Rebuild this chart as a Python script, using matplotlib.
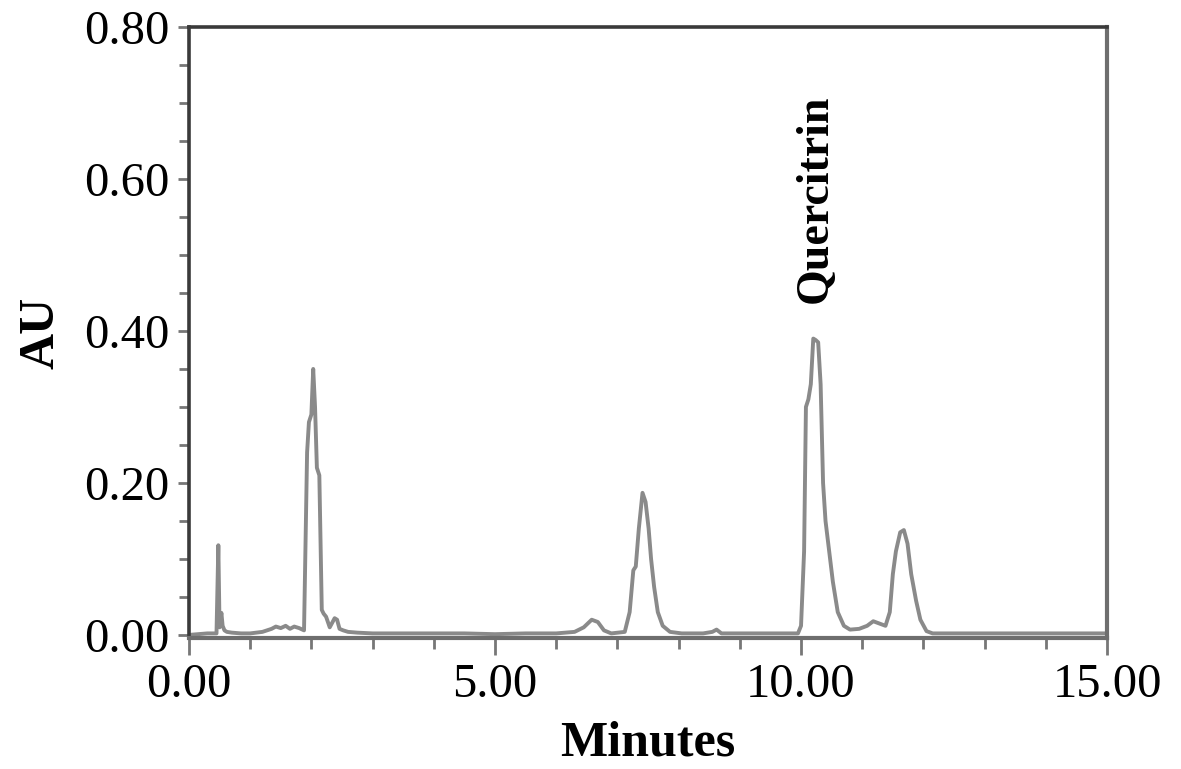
import matplotlib
matplotlib.use('Agg')
import matplotlib.pyplot as plt
from matplotlib.ticker import MultipleLocator, FormatStrFormatter

plt.rcParams['font.family'] = ['Liberation Serif', 'DejaVu Serif']

# retention time (min) and absorbance (AU)
time = [0.00, 0.30, 0.45, 0.48, 0.50, 0.53, 0.55, 0.58, 0.62, 0.70, 0.85, 1.00, 1.20,
        1.35, 1.42, 1.50, 1.58, 1.65, 1.72, 1.80, 1.88, 1.93, 1.96, 2.00, 2.03, 2.06,
        2.09, 2.13, 2.17, 2.20, 2.24, 2.30, 2.38, 2.42, 2.46, 2.52, 2.60, 2.75, 3.00,
        3.50, 4.00, 4.50, 5.00, 5.50, 6.00, 6.30, 6.45, 6.58, 6.68, 6.78, 6.90, 7.12,
        7.20, 7.26, 7.30, 7.35, 7.41, 7.46, 7.51, 7.55, 7.60, 7.66, 7.74, 7.86, 8.05,
        8.40, 8.55, 8.62, 8.70, 9.00, 9.50, 9.95, 10.00, 10.05, 10.08, 10.12, 10.16,
        10.20, 10.24, 10.28, 10.32, 10.36, 10.40, 10.46, 10.52, 10.60, 10.70, 10.80,
        10.95, 11.08, 11.18, 11.28, 11.38, 11.45, 11.50, 11.55, 11.62, 11.68, 11.74,
        11.80, 11.88, 11.95, 12.05, 12.15, 12.40, 13.00, 13.50, 14.00, 14.50, 15.00]
au = [0.000, 0.002, 0.002, 0.118, 0.010, 0.029, 0.012, 0.006, 0.004, 0.003, 0.002, 0.002, 0.004,
      0.008, 0.011, 0.009, 0.012, 0.008, 0.011, 0.009, 0.006, 0.240, 0.280, 0.290, 0.350, 0.300,
      0.220, 0.210, 0.033, 0.028, 0.024, 0.010, 0.022, 0.020, 0.008, 0.006, 0.004, 0.003, 0.002,
      0.002, 0.002, 0.002, 0.001, 0.002, 0.002, 0.004, 0.010, 0.020, 0.017, 0.006, 0.002, 0.004,
      0.030, 0.085, 0.090, 0.140, 0.187, 0.175, 0.140, 0.100, 0.063, 0.030, 0.012, 0.004, 0.002,
      0.002, 0.004, 0.007, 0.002, 0.002, 0.002, 0.002, 0.012, 0.110, 0.300, 0.310, 0.330,
      0.390, 0.388, 0.385, 0.330, 0.200, 0.150, 0.110, 0.070, 0.030, 0.012, 0.007,
      0.008, 0.012, 0.018, 0.015, 0.012, 0.030, 0.080, 0.110, 0.135, 0.138, 0.120,
      0.080, 0.045, 0.020, 0.005, 0.002, 0.002, 0.002, 0.002, 0.002, 0.002, 0.002]

peak_name = 'Quercitrin'
peak_time = 10.24
peak_label_y = 0.437

fig = plt.figure(figsize=(11.81, 7.69), dpi=100)
ax = fig.add_axes([0.1600, 0.1704, 0.7774, 0.7945])

ax.plot(time, au, color='#8a8a8a', lw=2.8)

ax.set_xlim(0, 15)
ax.set_ylim(-0.004, 0.80)

ax.xaxis.set_major_locator(MultipleLocator(5))
ax.xaxis.set_minor_locator(MultipleLocator(1))
ax.yaxis.set_major_locator(MultipleLocator(0.2))
ax.yaxis.set_minor_locator(MultipleLocator(0.05))
ax.xaxis.set_major_formatter(FormatStrFormatter('%.2f'))
ax.yaxis.set_major_formatter(FormatStrFormatter('%.2f'))

ax.tick_params(axis='both', which='both', direction='out', colors='#777777',
               width=2, labelcolor='black', labelsize=35)
ax.tick_params(axis='x', which='major', length=12, pad=6)
ax.tick_params(axis='x', which='minor', length=8)
ax.tick_params(axis='y', which='major', length=8, pad=6)
ax.tick_params(axis='y', which='minor', length=7)

for side in ['left', 'top']:
    ax.spines[side].set_color('#3a3a3a')
    ax.spines[side].set_linewidth(2.6)
for side in ['right', 'bottom']:
    ax.spines[side].set_color('#6e6e6e')
    ax.spines[side].set_linewidth(3)

ax.set_xlabel('Minutes', fontsize=36, fontweight='bold', labelpad=10)
ax.set_ylabel('AU', fontsize=36, fontweight='bold', labelpad=14)

ax.text(peak_time, peak_label_y, peak_name, rotation=90, ha='center', va='bottom',
        fontsize=33, fontweight='bold')

fig.savefig('out.png', dpi=100, facecolor='white')
